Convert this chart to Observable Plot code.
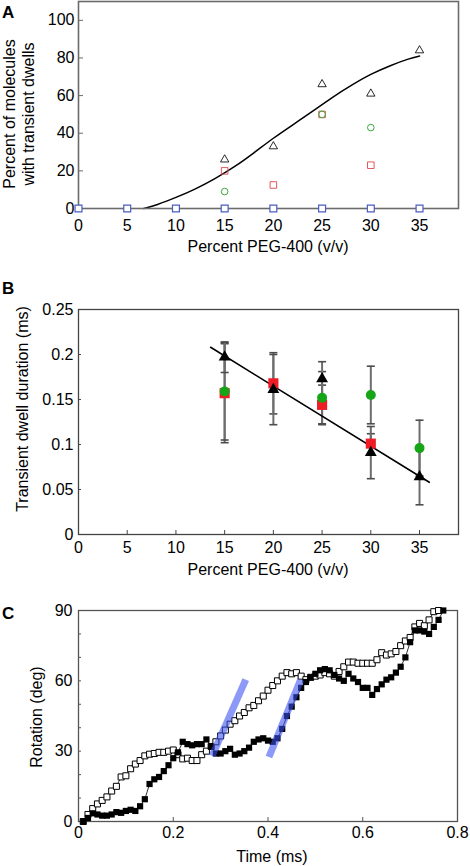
<!DOCTYPE html>
<html><head><meta charset="utf-8">
<script src="https://cdn.jsdelivr.net/npm/d3@7"></script>
<script src="https://cdn.jsdelivr.net/npm/@observablehq/plot@0.6"></script>
<style>
body{margin:0;background:#fff;}
#wrap{position:relative;width:470px;height:866px;font-family:"Liberation Sans",Arial,Helvetica,sans-serif;color:#000;background:#fff;overflow:hidden;}
.panel{position:absolute;left:0;}
.lbl{position:absolute;font-size:16px;line-height:16px;white-space:nowrap;transform:translate(-50%,-50%);}
.rot{transform:translate(-50%,-50%) rotate(-90deg);text-align:center;}
.letter{position:absolute;font-weight:bold;font-size:17px;line-height:17px;}
</style></head><body>
<div id="wrap"></div>
<script>
// ---------- shared ----------
const pegTicks = [0, 5, 10, 15, 20, 25, 30, 35];

// ---------- Panel A: percent of molecules with transient dwells ----------
const aTriX = [15, 20, 25, 30, 35];
const aTriY = [26, 33, 66, 61, 84];
const aRedX = [15, 20, 25, 30];
const aRedY = [20, 12.5, 50, 23];
const aGreenX = [15, 25, 30];
const aGreenY = [9, 50, 43];
const aBlueX = [0, 5, 10, 15, 20, 25, 30, 35];
const aBlueY = [0, 0, 0, 0, 0, 0, 0, 0];
const aCurveX = [6.7, 8, 10, 12, 14, 16, 18, 20, 22, 24, 26, 28, 30, 32, 34, 35];
const aCurveY = [0, 1.8, 5.8, 10.3, 15.8, 22, 29.5, 37.5, 44.5, 51.5, 59, 65.5, 71.5, 76, 79.8, 81];
const aYTicks = [0, 20, 40, 60, 80, 100];

// ---------- Panel B: transient dwell duration ----------
const bTriX = [15, 20, 25, 30, 35];
const bTriY = [0.197, 0.161, 0.173, 0.091, 0.064];
const bTriErr = [0.017, 0.039, 0.019, 0.029, 0.031];
const bRedX = [15, 20, 25, 30];
const bRedY = [0.157, 0.168, 0.144, 0.101];
const bRedErr = [0.055, 0.034, 0.022, 0.011];
const bGreenX = [15, 25, 30, 35];
const bGreenY = [0.159, 0.152, 0.155, 0.096];
const bGreenErr = [0.054, 0.029, 0.032, 0.031];
const bFitX = [13.56, 36];
const bFitY = [0.208, 0.058];
const bYTicks = [0, 0.05, 0.1, 0.15, 0.2, 0.25];

// ---------- Panel C: rotation vs time ----------
const cTime = [0.01,0.02,0.03,0.04,0.05,0.06,0.07,0.08,0.09,0.10,0.11,0.12,0.13,0.14,0.15,0.16,0.17,0.18,0.19,0.20,
  0.21,0.22,0.23,0.24,0.25,0.26,0.27,0.28,0.29,0.30,0.31,0.32,0.33,0.34,0.35,0.36,0.37,0.38,0.39,0.40,
  0.41,0.42,0.43,0.44,0.45,0.46,0.47,0.48,0.49,0.50,0.51,0.52,0.53,0.54,0.55,0.56,0.57,0.58,0.59,0.60,
  0.61,0.62,0.63,0.64,0.65,0.66,0.67,0.68,0.69,0.70,0.71,0.72,0.73,0.74,0.75,0.76,0.77];
const cFilled = [0,1.5,3.5,3,2.5,2.5,3,4,3.7,4.5,5,4.5,6.5,9.5,16,18,19,21.5,24,27,
  29.5,34,33,32.5,33,33,35,32,29,29,30,31,28.5,29,30,31.5,34,35,35.5,34.5,
  34,35.5,39.5,45,49,53,57,59.5,61.5,63,64.5,65,64.5,62.5,61,60,63,61,59.5,57,
  57,54,56.5,58.5,60.5,61.5,63.5,66,70,76.5,81.5,81.5,81,80,83,86,90];
const cOpenTime = [0.01,0.02,0.03,0.04,0.05,0.06,0.07,0.08,0.09,0.10,0.11,0.12,0.13,0.14,0.15,0.16,0.17,0.18,0.19,0.20,
  0.21,0.22,0.23,0.24,0.25,0.26,0.27,0.28,0.29,0.30,0.31,0.32,0.33,0.34,0.35,0.36,0.37,0.38,0.39,0.40,
  0.41,0.42,0.43,0.44,0.45,0.46,0.47,0.48,0.49,0.50,0.51,0.52,0.53,0.54,0.55,0.56,0.57,0.58,0.59,0.60,
  0.61,0.62,0.63,0.64,0.65,0.66,0.67,0.68,0.69,0.70,0.71,0.72,0.73,0.74,0.75,0.76];
const cOpen = [0,3,5.5,7.5,9,10.5,13,15,19,19.5,22.5,24.5,26,28,28.7,29,29.5,29.5,30,30.5,
  28.5,26.7,27,26,26,28.5,30,32,34,36.5,39,41.5,43,45,46.5,48.5,49.5,51.5,53.5,56,
  58,60,62,63.5,63,63.5,62,60.5,61.5,62,62.5,63.5,63,62,64,66,68,68,67.5,67.5,
  67.5,67.5,69,72,71,71.5,72.5,75,77,78.5,83,84.5,83.5,86,89.5,90];
const cBar1X = [0.282, 0.353];
const cBar1Y = [28, 60.5];
const cBar2X = [0.402, 0.469];
const cBar2Y = [27.5, 60.5];
const cYTicks = [0, 10, 20, 30, 40, 50, 60, 70, 80, 90];
const cXTicks = [0, 0.2, 0.4, 0.6, 0.8];

// ---------- helpers ----------
const FONT = '"Liberation Sans",Arial,Helvetica,sans-serif';
const style = {fontFamily: FONT, fontSize: "16px", color: "#000", background: "transparent", overflow: "visible"};
const capSymbol = {draw(ctx, size) { const w = Math.sqrt(size / Math.PI); ctx.moveTo(-w, 0); ctx.lineTo(w, 0); }};
const lo = (v, e) => v.map((d, i) => d - e[i]);
const hi = (v, e) => v.map((d, i) => d + e[i]);

function errMarks(xs, ys, es) {
  const l = lo(ys, es), h = hi(ys, es);
  return [
    Plot.ruleX(xs, {x: xs, y1: l, y2: h, stroke: "#6d6d6d", strokeWidth: 2}),
    Plot.dot(xs, {x: xs, y: l, symbol: capSymbol, r: 4, stroke: "#4d4d4d", strokeWidth: 1.6, fill: "none"}),
    Plot.dot(xs, {x: xs, y: h, symbol: capSymbol, r: 4, stroke: "#4d4d4d", strokeWidth: 1.6, fill: "none"})
  ];
}

const wrap = document.getElementById("wrap");
function place(node, top) {
  node.classList.add("panel");
  node.style.top = top + "px";
  wrap.appendChild(node);
}
function label(text, x, y, rotate) {
  const d = document.createElement("div");
  d.className = "lbl" + (rotate ? " rot" : "");
  d.innerHTML = text;
  d.style.left = x + "px";
  d.style.top = y + "px";
  wrap.appendChild(d);
  return d;
}
function letter(text, x, y) {
  const d = document.createElement("div");
  d.className = "letter";
  d.textContent = text;
  d.style.left = x + "px";
  d.style.top = y + "px";
  wrap.appendChild(d);
}

// ---------- Panel A ----------
const plotA = Plot.plot({
  width: 470, height: 262, marginTop: 1, marginLeft: 78, marginRight: 12, marginBottom: 54,
  style,
  x: {domain: [0, 39]},
  y: {domain: [0, 110]},
  marks: [
    Plot.line(aCurveX, {x: aCurveX, y: aCurveY, stroke: "#000", strokeWidth: 1.5, curve: "basis"}),
    Plot.frame({stroke: "#6b6b6b", strokeWidth: 1.6}),
    Plot.axisY({ticks: aYTicks, tickSize: -5, tickPadding: 9, label: null, stroke: "#6b6b6b"}),
    Plot.axisX({ticks: pegTicks, tickSize: 3, tickPadding: 8, label: null, stroke: "#6b6b6b"}),
    Plot.dot(aTriX, {x: aTriX, y: aTriY, symbol: "triangle", r: 3.1, stroke: "#111", fill: "none", strokeWidth: 0.9}),
    Plot.dot(aRedX, {x: aRedX, y: aRedY, symbol: "square", r: 3.7, stroke: "#e2585e", fill: "none", strokeWidth: 1}),
    Plot.dot(aGreenX, {x: aGreenX, y: aGreenY, r: 3.3, stroke: "#3aa83a", fill: "none", strokeWidth: 1}),
    Plot.dot(aBlueX, {x: aBlueX, y: aBlueY, symbol: "square", r: 3.9, stroke: "#4a5cc4", fill: "#fff", strokeWidth: 1.2})
  ]
});
place(plotA, 0);

// ---------- Panel B ----------
const plotB = Plot.plot({
  width: 470, height: 290, marginTop: 19, marginLeft: 78, marginRight: 12, marginBottom: 46,
  style,
  x: {domain: [0, 39]},
  y: {domain: [0, 0.25]},
  marks: [
    Plot.frame({stroke: "#444", strokeWidth: 1.3}),
    Plot.axisY({ticks: bYTicks, tickSize: -3, tickPadding: 8, label: null, stroke: "#444", tickFormat: d => String(d)}),
    Plot.axisX({ticks: pegTicks, tickSize: -4, tickPadding: 11, label: null, stroke: "#444"}),
    ...errMarks(bRedX, bRedY, bRedErr),
    ...errMarks(bGreenX, bGreenY, bGreenErr),
    ...errMarks(bTriX, bTriY, bTriErr),
    Plot.line(bFitX, {x: bFitX, y: bFitY, stroke: "#000", strokeWidth: 1.6}),
    Plot.dot(bRedX, {x: bRedX, y: bRedY, symbol: "square", r: 5.7, fill: "#ee1c24", stroke: "none"}),
    Plot.dot(bGreenX, {x: bGreenX, y: bGreenY, r: 5, fill: "#16a516", stroke: "none"}),
    Plot.dot(bTriX, {x: bTriX, y: bTriY, symbol: "triangle", r: 4.4, fill: "#000", stroke: "none"})
  ]
});
place(plotB, 290);

// ---------- Panel C ----------
const plotC = Plot.plot({
  width: 470, height: 276, marginTop: 20, marginLeft: 78, marginRight: 13, marginBottom: 45,
  style,
  x: {domain: [0, 0.8]},
  y: {domain: [0, 90]},
  marks: [
    Plot.frame({stroke: "#555", strokeWidth: 1.3}),
    Plot.axisY({ticks: cYTicks, tickSize: -3, tickPadding: 9, label: null, stroke: "#555", tickFormat: d => d % 30 === 0 ? String(d) : ""}),
    Plot.axisX({ticks: cXTicks, tickSize: -4, tickPadding: 9.5, label: null, stroke: "#555", tickFormat: d => String(d)}),
    Plot.line(cOpenTime, {x: cOpenTime, y: cOpen, stroke: "#000", strokeWidth: 0.8}),
    Plot.line(cTime, {x: cTime, y: cFilled, stroke: "#000", strokeWidth: 0.8}),
    Plot.dot(cOpenTime, {x: cOpenTime, y: cOpen, symbol: "square", r: 3.4, fill: "#fff", stroke: "#000", strokeWidth: 1}),
    Plot.dot(cTime, {x: cTime, y: cFilled, symbol: "square", r: 3.5, fill: "#000", stroke: "none"}),
    Plot.line(cBar1X, {x: cBar1X, y: cBar1Y, stroke: "#3a50f0", strokeOpacity: 0.58, strokeWidth: 7, strokeLinecap: "butt"}),
    Plot.line(cBar2X, {x: cBar2X, y: cBar2Y, stroke: "#3a50f0", strokeOpacity: 0.58, strokeWidth: 7, strokeLinecap: "butt"})
  ]
});
place(plotC, 590);

// ---------- text ----------
letter("A", 2, 4);
letter("B", 2, 280);
letter("C", 2, 605);

label("Percent PEG-400 (v/v)", 268, 247, false);
const aY = label("Percent of molecules<br>with transient dwells", 19, 114, true);
aY.style.lineHeight = "18.5px";

label("Percent PEG-400 (v/v)", 268, 570, false);
label("Transient dwell duration (ms)", 22.5, 409, true);

label("Time (ms)", 272, 857, false);
label("Rotation (deg)", 37, 717, true);
</script>
</body></html>
